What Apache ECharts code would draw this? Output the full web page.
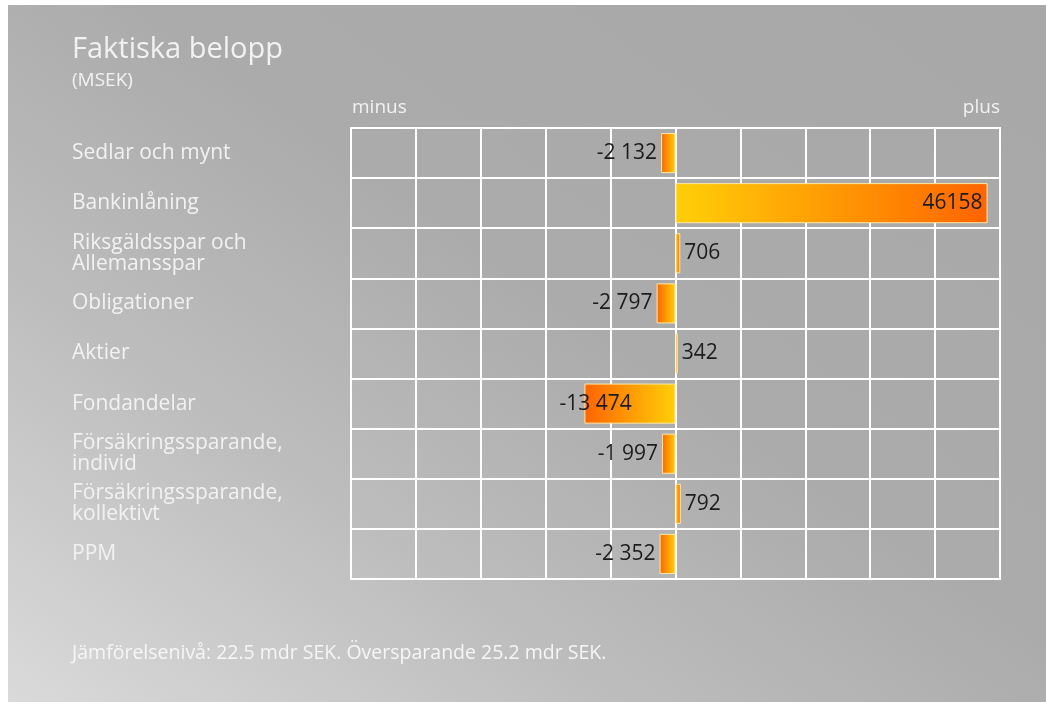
<!DOCTYPE html>
<html>
<head>
<meta charset="utf-8">
<script src="https://cdn.jsdelivr.net/npm/echarts@6/dist/echarts.min.js"></script>
<style>
  html, body { margin: 0; padding: 0; background: #fff; }
  #chart {
    position: absolute; left: 8px; top: 5px; width: 1038px; height: 697px;
    background: linear-gradient(35deg, #dadada 0%, #bdbdbd 30%, #ababab 55%, #a8a8a8 100%);
  }
</style>
</head>
<body>
<div id="chart"></div>
<script>
const categories = [
  "Sedlar och mynt",
  "Bankinlåning",
  "Riksgäldsspar och\nAllemansspar",
  "Obligationer",
  "Aktier",
  "Fondandelar",
  "Försäkringssparande,\nindivid",
  "Försäkringssparande,\nkollektivt",
  "PPM"
];
const amounts = [-2132, 46158, 706, -2797, 342, -13474, -1997, 792, -2352];
const amountText = ["-2 132", "46158", "706", "-2 797", "342", "-13 474", "-1 997", "792", "-2 352"];

const font = '"Open Sans", "Noto Sans", sans-serif';
const yellow = "#ffcf08";
const orange = "#ff6400";

const chart = echarts.init(document.getElementById("chart"));

const barData = amounts.map((v, i) => {
  const pos = v >= 0;
  const item = {
    value: v,
    itemStyle: {
      color: new echarts.graphic.LinearGradient(0, 0, 1, 0, [
        { offset: 0, color: pos ? yellow : orange },
        { offset: 1, color: pos ? orange : yellow }
      ])
    },
    label: { position: pos ? "right" : "left", distance: 4 }
  };
  if (v > 20000) item.label = { position: "insideRight", distance: 5 };
  if (v < -10000) item.label = { position: "insideLeft", offset: [-30, 0] };
  return item;
});

const option = {
  animation: false,
  textStyle: { fontFamily: font },
  grid: {
    left: 343, right: 46, top: 123, bottom: 123,
    show: true, borderColor: "#ffffff", borderWidth: 2
  },
  xAxis: {
    type: "value",
    min: -48000, max: 48000, interval: 9600,
    axisLabel: { show: false },
    axisLine: { show: false },
    axisTick: { show: false },
    splitLine: { lineStyle: { color: "#ffffff", width: 2 } }
  },
  yAxis: {
    type: "category",
    inverse: true,
    data: categories,
    axisLine: { show: false },
    axisTick: { show: false },
    splitLine: { show: true, lineStyle: { color: "#ffffff", width: 2 } },
    axisLabel: {
      align: "left",
      margin: 279,
      color: "#f2f2f2",
      fontSize: 21,
      lineHeight: 21,
      fontFamily: font
    }
  },
  series: [{
    type: "bar",
    data: barData,
    barWidth: "80%",
    itemStyle: { borderColor: "#ffe9a6", borderWidth: 1 },
    label: {
      show: true,
      color: "#1c1c1c",
      fontSize: 21,
      fontFamily: font,
      formatter: p => amountText[p.dataIndex]
    }
  }],
  graphic: [
    { type: "text", left: 64, top: 30, style: { text: "Faktiska belopp", fill: "#f2f2f2", font: "29px " + font } },
    { type: "text", left: 64, top: 66, style: { text: "(MSEK)", fill: "#f2f2f2", font: "19px " + font } },
    { type: "text", left: 344, top: 93, style: { text: "minus", fill: "#f2f2f2", font: "19px " + font } },
    { type: "text", right: 46, top: 93, style: { text: "plus", fill: "#f2f2f2", font: "19px " + font } },
    { type: "text", left: 64, top: 638, style: { text: "Jämförelsenivå: 22.5 mdr SEK. Översparande 25.2 mdr SEK.", fill: "#f6f6f6", font: "19.5px " + font } }
  ]
};

chart.setOption(option);
</script>
</body>
</html>
